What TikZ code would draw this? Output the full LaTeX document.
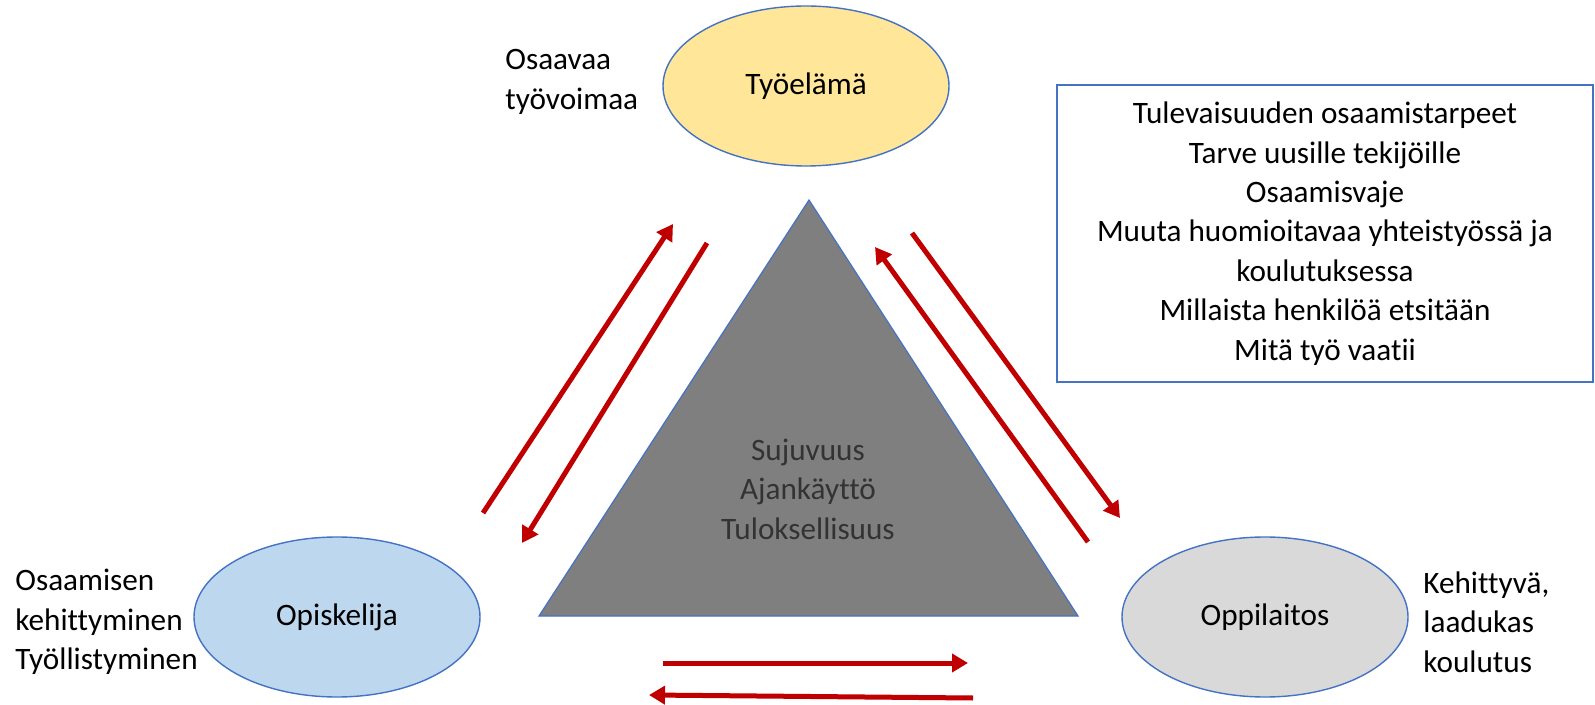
\documentclass[tikz,border=0pt]{standalone}
\usepackage{fontspec}
\setmainfont{Carlito}[Ligatures=NoCommon]
\usepackage{tikz}
\usetikzlibrary{
    arrows.meta,
    shapes.geometric,
}
\definecolor{frameblue}{HTML}{4472C4}
\definecolor{flowred}{HTML}{C00000}
\definecolor{workyellow}{HTML}{FFE699}
\definecolor{studentblue}{HTML}{BDD7EE}
\definecolor{schoolgray}{HTML}{D9D9D9}
\definecolor{coregray}{HTML}{7F7F7F}
\tikzset{
    triad/.style={
        x=0.5pt, y=-0.5pt,
        font=\fontsize{15.6}{19.7}\selectfont,
        party/.style={ellipse, draw=frameblue, line width=0.7pt, inner sep=0pt,
            minimum width=143pt, minimum height=80pt},
        flow/.style={draw=flowred, line width=2.5pt,
            -{Triangle[length=8pt,width=9pt]}},
        note/.style={anchor=west, align=left, inner sep=0pt},
        needsbox/.style={draw=frameblue, line width=0.7pt, align=center, inner sep=0pt,
            minimum width=268pt, minimum height=148.5pt},
    },
}

\begin{document}
\begin{tikzpicture}[triad]
    \useasboundingbox (0,0) rectangle (1595,705);

    % core triangle
    \coordinate (apex) at (809,200);
    \coordinate (baseL) at (539,616);
    \coordinate (baseR) at (1078,616);
    \draw[fill=coregray, draw=frameblue, line width=0.6pt] (apex) -- (baseL) -- (baseR) -- cycle;
    \node[align=center, text=black!80, inner sep=0pt] (core) at (808,489)
        {Sujuvuus\\Ajankäyttö\\Tuloksellisuus};

    % the three parties
    \node[party, fill=workyellow] (tyoelama) at (806,86) {Työelämä};
    \node[party, fill=studentblue] (opiskelija) at (337,617) {Opiskelija};
    \node[party, fill=schoolgray] (oppilaitos) at (1265,617) {Oppilaitos};

    \node[note] (tyoelamaNote) at (505,82) {Osaavaa\\työvoimaa};
    \node[note] (opiskelijaNote) at (15,622) {Osaamisen\\kehittyminen\\Työllistyminen};
    \node[note] (oppilaitosNote) at (1423,622) {Kehittyvä,\\laadukas\\koulutus};

    \node[needsbox] (needs) at (1325,233.5) {Tulevaisuuden osaamistarpeet\\
        Tarve uusille tekijöille\\
        Osaamisvaje\\
        Muuta huomioitavaa yhteistyössä ja\\
        koulutuksessa\\
        Millaista henkilöä etsitään\\
        Mitä työ vaatii};

    % flows between the parties
    \coordinate (leftUpA) at (483,513);
    \coordinate (leftUpB) at (673,224);
    \coordinate (leftDownA) at (707,243);
    \coordinate (leftDownB) at (522,543);
    \coordinate (rightDownA) at (912,233);
    \coordinate (rightDownB) at (1120,518);
    \coordinate (rightUpA) at (1088,542);
    \coordinate (rightUpB) at (875,247);
    \coordinate (bottomRA) at (663,663);
    \coordinate (bottomRB) at (968,663);
    \coordinate (bottomLA) at (973,698);
    \coordinate (bottomLB) at (649,695);

    \draw[flow] (leftUpA) -- (leftUpB);
    \draw[flow] (leftDownA) -- (leftDownB);
    \draw[flow] (rightDownA) -- (rightDownB);
    \draw[flow] (rightUpA) -- (rightUpB);
    \draw[flow] (bottomRA) -- (bottomRB);
    \draw[flow] (bottomLA) -- (bottomLB);
\end{tikzpicture}
\end{document}
